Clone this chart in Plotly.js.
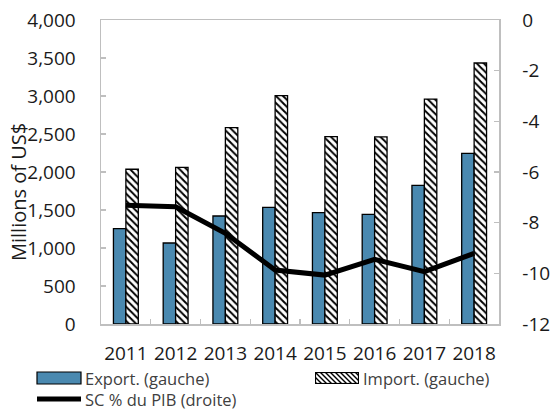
<!DOCTYPE html>
<html>
<head>
<meta charset="utf-8">
<script src="https://cdn.plot.ly/plotly-3.0.1.min.js"></script>
<style>
  html, body { margin: 0; padding: 0; background: #fff; }
  #chart { width: 550px; height: 410px; }
</style>
</head>
<body>
<div id="chart"></div>
<script>
// Years on the category axis
const years = ['2011', '2012', '2013', '2014', '2015', '2016', '2017', '2018'];
// Exports and imports, millions of US$ (left axis)
const exportsUSD = [1254, 1066, 1421, 1535, 1465, 1443, 1825, 2246];
const importsUSD = [2036, 2062, 2583, 3004, 2465, 2462, 2960, 3434];
// Current account balance, % of GDP (right axis)
const scPIB = [-7.31, -7.37, -8.42, -9.87, -10.07, -9.45, -9.93, -9.21];
// Tick values and labels
const leftTicks = [0, 500, 1000, 1500, 2000, 2500, 3000, 3500, 4000];
const rightTicks = [0, -2, -4, -6, -8, -10, -12];
const rightTickText = ['0', '-2', '-4', '-6', '-8', '-10', '-12'];
// Axis title and legend labels
const yTitle = 'Millions of US$';
const legendLabels = ['Export. (gauche)', 'Import. (gauche)', 'SC % du PIB (droite)'];

const FONT = 'Open Sans, Noto Sans, sans-serif';
const TXT = '#1a1a1a';
const AX = '#bfbfbf';
const BLUE = '#4a89b0';

const traces = [
  {
    type: 'bar', x: years, y: exportsUSD, name: legendLabels[0],
    marker: { color: BLUE, line: { color: '#000', width: 1.3 } },
    showlegend: false, hoverinfo: 'skip'
  },
  {
    type: 'bar', x: years, y: importsUSD, name: legendLabels[1],
    marker: {
      color: '#fff', line: { color: '#000', width: 1.3 },
      pattern: { shape: '\\', fgcolor: '#000', bgcolor: '#fff', size: 5, solidity: 0.4 }
    },
    showlegend: false, hoverinfo: 'skip'
  },
  {
    type: 'scatter', mode: 'lines', x: years, y: scPIB, yaxis: 'y2', name: legendLabels[2],
    line: { color: '#000', width: 5 },
    showlegend: false, hoverinfo: 'skip'
  }
];

// Plot area geometry in pixels, used to place the legend and axis title
const M = { l: 101, r: 51, t: 20, b: 86 };
const W = 550, H = 410;
const pw = W - M.l - M.r, ph = H - M.t - M.b;
const px = x => (x - M.l) / pw;
const py = y => (H - M.b - y) / ph;

// Hatched swatch for the import legend entry
const hatch = 'data:image/svg+xml;utf8,' + encodeURIComponent(
  '<svg xmlns="http://www.w3.org/2000/svg" width="44" height="12">' +
  '<defs><pattern id="p" width="5" height="5" patternUnits="userSpaceOnUse">' +
  '<path d="M-1,-1L6,6M-1,4L1,6M4,-1L6,1" stroke="#000" stroke-width="1.4"/></pattern></defs>' +
  '<rect x="0.5" y="0.5" width="43" height="11" fill="#fff"/>' +
  '<rect x="0.5" y="0.5" width="43" height="11" fill="url(#p)" stroke="#000" stroke-width="1.2"/></svg>');

const shapes = [
  { type: 'rect', xref: 'paper', yref: 'paper', x0: px(37), x1: px(81), y0: py(372), y1: py(384),
    fillcolor: BLUE, line: { color: '#000', width: 1.2 } },
  { type: 'line', xref: 'paper', yref: 'paper', x0: px(37), x1: px(81), y0: py(399), y1: py(399),
    line: { color: '#000', width: 5 } }
];

// Legend texts: the left column (export and balance) shares one two-line label
const legendFont = { family: FONT, size: 16.5, color: '#404040' };
const annotations = [
  { text: legendLabels[0] + '<br>' + legendLabels[2], x: px(84), y: py(389) },
  { text: legendLabels[1], x: px(362), y: py(378) }
].map(a => ({
  text: a.text, xref: 'paper', yref: 'paper', x: a.x, y: a.y,
  xanchor: 'left', yanchor: 'middle', align: 'left', showarrow: false,
  borderpad: 0, font: legendFont
}));

// Left axis title, set a little below the middle of the axis
annotations.push({
  text: yTitle, xref: 'paper', yref: 'paper', x: px(18), y: py(192),
  xanchor: 'center', yanchor: 'middle', textangle: -90, showarrow: false,
  font: { family: FONT, size: 20, color: TXT }
});

const layout = {
  width: W, height: H,
  margin: M,
  paper_bgcolor: '#fff', plot_bgcolor: '#fff',
  font: { family: FONT, size: 19, color: TXT },
  showlegend: false,
  barmode: 'group', bargap: 0.5, bargroupgap: 0,
  xaxis: {
    type: 'category', showline: true, linecolor: AX, linewidth: 1.5, mirror: true,
    ticks: 'inside', tickson: 'boundaries', ticklen: 5, tickcolor: AX, tickwidth: 1.3,
    tickangle: 0, ticklabelstandoff: 12, showgrid: false, zeroline: false,
    tickfont: { family: FONT, size: 19, color: TXT }
  },
  yaxis: {
    range: [0, 4000], tickvals: leftTicks, tickformat: ',d',
    showline: true, linecolor: AX, linewidth: 1.5,
    ticks: 'inside', ticklen: 5, tickcolor: AX, tickwidth: 1.3,
    ticklabelstandoff: 20, showgrid: false, zeroline: false,
    tickfont: { family: FONT, size: 19, color: TXT }
  },
  yaxis2: {
    overlaying: 'y', side: 'right', range: [-12, 0],
    tickvals: rightTicks, ticktext: rightTickText,
    showline: true, linecolor: AX, linewidth: 1.5,
    ticks: 'inside', ticklen: 5, tickcolor: AX, tickwidth: 1.3,
    ticklabelstandoff: 18, showgrid: false, zeroline: false,
    tickfont: { family: FONT, size: 19, color: TXT }
  },
  shapes: shapes,
  annotations: annotations,
  images: [{
    source: hatch, xref: 'paper', yref: 'paper',
    x: px(315), y: py(372), sizex: 44 / pw, sizey: 12 / ph,
    xanchor: 'left', yanchor: 'top', sizing: 'stretch', layer: 'above'
  }]
};

Plotly.newPlot('chart', traces, layout, { staticPlot: true, displayModeBar: false });
</script>
</body>
</html>
